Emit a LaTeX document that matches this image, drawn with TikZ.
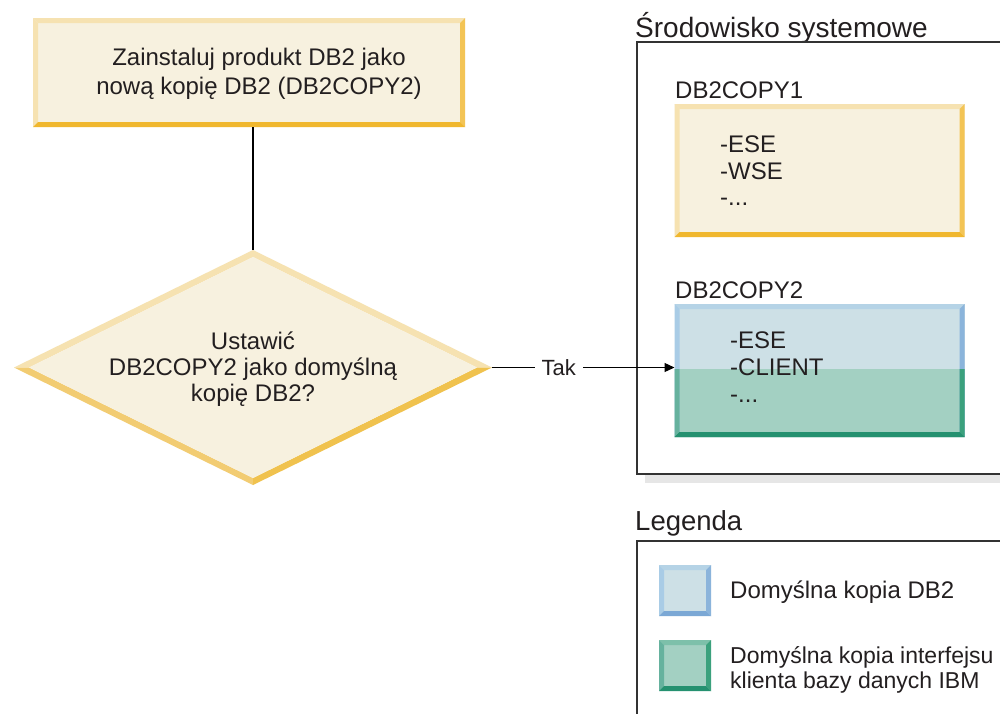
\documentclass[tikz,border=0pt]{standalone}
\usepackage{fontspec}
\setmainfont{Liberation Sans}
\usetikzlibrary{shapes.geometric,arrows.meta}
\definecolor{txt}{HTML}{231F20}
\definecolor{cream}{HTML}{F7F1DF}
\definecolor{ylight}{HTML}{F6E2B1}
\definecolor{yright}{HTML}{F3C455}
\definecolor{ydark}{HTML}{F0B72E}
\definecolor{ydl}{HTML}{F2CC72}
\definecolor{ydr}{HTML}{F0C24E}
\definecolor{bfill}{HTML}{CDE0E6}
\definecolor{btop}{HTML}{B5D3E6}
\definecolor{bleft}{HTML}{A9CCE6}
\definecolor{bright}{HTML}{8BB4DB}
\definecolor{bbot}{HTML}{7BA8D5}
\definecolor{gfill}{HTML}{A3D0C2}
\definecolor{gtop}{HTML}{7DC0AA}
\definecolor{gleft}{HTML}{66B29E}
\definecolor{gright}{HTML}{3BA17D}
\definecolor{gbot}{HTML}{259170}
\definecolor{frame}{HTML}{333333}
\definecolor{shadow}{HTML}{E6E6E6}
% bevel: node, width, top, left, right, bottom
\newcommand\bvl[6]{%
\fill[#3] (#1.north west) -- (#1.north east) -- ([xshift=-#2pt,yshift=-#2pt]#1.north east) -- ([xshift=#2pt,yshift=-#2pt]#1.north west) -- cycle;
\fill[#4] (#1.north west) -- ([xshift=#2pt,yshift=-#2pt]#1.north west) -- ([xshift=#2pt,yshift=#2pt]#1.south west) -- (#1.south west) -- cycle;
\fill[#5] (#1.north east) -- ([xshift=-#2pt,yshift=-#2pt]#1.north east) -- ([xshift=-#2pt,yshift=#2pt]#1.south east) -- (#1.south east) -- cycle;
\fill[#6] (#1.south west) -- ([xshift=#2pt,yshift=#2pt]#1.south west) -- ([xshift=-#2pt,yshift=#2pt]#1.south east) -- (#1.south east) -- cycle;}
\begin{document}
\begin{tikzpicture}[x=1pt,y=-1pt,
  every node/.style={font=\fontsize{24}{26.5}\selectfont, text=txt},
  shapebox/.style={rectangle, inner sep=0pt, outer sep=0pt, draw=none},
  txtleft/.style={anchor=north west, align=left, inner sep=0pt},
  label/.style={anchor=base west, inner sep=0pt},
  conn/.style={draw=black, line width=1.2pt},
  framebox/.style={shapebox, draw=frame, line width=1.4pt}]
\useasboundingbox (0,0) rectangle (1000,713);
\fill[white] (0,0) rectangle (1000,713);

% top box
\node[shapebox, fill=cream, minimum width=432pt, minimum height=109pt] (top) at (249,72.5) {};
\bvl{top}{5}{ylight}{ylight}{yright}{ydark}
\node[align=center, inner sep=0pt, font=\fontsize{24}{29}\selectfont] (toptxt) at ([xshift=10pt,yshift=-1pt]top.center) {Zainstaluj produkt DB2 jako\\nową kopię DB2 (DB2COPY2)};

% diamond
\node[diamond, shapebox, minimum width=478pt, minimum height=235pt] (d) at (253,367.5) {};
\fill[ylight] (d.west) -- (d.north) -- ([yshift=-7pt]d.north) -- ([xshift=15pt]d.west) -- cycle;
\fill[ylight] (d.north) -- (d.east) -- ([xshift=-15pt]d.east) -- ([yshift=-7pt]d.north) -- cycle;
\fill[ydl] (d.west) -- (d.south) -- ([yshift=7pt]d.south) -- ([xshift=15pt]d.west) -- cycle;
\fill[ydr] (d.south) -- (d.east) -- ([xshift=-15pt]d.east) -- ([yshift=7pt]d.south) -- cycle;
\fill[cream] ([yshift=-7pt]d.north) -- ([xshift=-15pt]d.east) -- ([yshift=7pt]d.south) -- ([xshift=15pt]d.west) -- cycle;
\node[align=center, inner sep=0pt, font=\fontsize{24}{26}\selectfont] (dtxt) at ([yshift=-2pt]d.center) {Ustawić\\DB2COPY2 jako domyślną\\kopię DB2?};

\draw[conn] (top.south -| d.north) -- (d.north);

% system environment
\node[label, font=\fontsize{28}{30}\selectfont] (systitle) at (635,37) {Środowisko systemowe};
\node[shapebox, minimum width=378pt, minimum height=432pt] (sys) at (826,258) {};
\fill[shadow] ([xshift=8pt,yshift=-1pt]sys.south west) rectangle ([yshift=-9pt]sys.south east);
\draw[frame, line width=1.4pt] (sys.north east) -- (sys.north west) -- (sys.south west) -- (sys.south east);

\node[label] (c1lab) at (675,98) {DB2COPY1};
\node[shapebox, fill=cream, minimum width=290pt, minimum height=133pt] (copy1) at (819.5,170.5) {};
\bvl{copy1}{5}{ylight}{ylight}{yright}{ydark}
\node[txtleft] (c1txt) at (720,136) {-ESE\\-WSE\\-...};

\node[label] (c2lab) at (675,298) {DB2COPY2};
\node[shapebox, minimum width=290pt, minimum height=133pt] (copy2) at (819.5,370.5) {};
\fill[bfill] (copy2.north west) rectangle ([yshift=1.5pt]copy2.east);
\fill[gfill] ([yshift=1.5pt]copy2.west) rectangle (copy2.south east);
\bvl{copy2}{5}{btop}{bleft}{bright}{gbot}
\fill[gleft] ([yshift=1.5pt]copy2.west) -- ([xshift=5pt,yshift=1.5pt]copy2.west) -- ([xshift=5pt,yshift=5pt]copy2.south west) -- (copy2.south west) -- cycle;
\fill[gright] ([yshift=1.5pt]copy2.east) -- ([xshift=-5pt,yshift=1.5pt]copy2.east) -- ([xshift=-5pt,yshift=5pt]copy2.south east) -- (copy2.south east) -- cycle;
\fill[gbot] (copy2.south west) -- ([xshift=5pt,yshift=5pt]copy2.south west) -- ([xshift=-5pt,yshift=5pt]copy2.south east) -- (copy2.south east) -- cycle;
\node[txtleft, font=\fontsize{24}{27}\selectfont] (c2txt) at (730,332) {-ESE\\-CLIENT\\-...};

% arrow
\draw[conn, -{Triangle[length=10pt,width=9pt]}] (d.east) -- node[pos=0.366, fill=white, inner xsep=7pt, inner ysep=2pt, font=\fontsize{22}{24}\selectfont] (tak) {Tak} (d.east -| copy2.west);

% legend
\node[label, font=\fontsize{27.5}{30}\selectfont] (legtitle) at (635,530) {Legenda};
\node[shapebox, minimum width=378pt, minimum height=195pt] (leg) at (826,638.5) {};
\draw[frame, line width=1.4pt] (leg.north east) -- (leg.north west) -- (leg.south west);

\node[shapebox, fill=bfill, minimum width=52pt, minimum height=51pt] (sq1) at (685,590.5) {};
\bvl{sq1}{5}{btop}{bleft}{bright}{bbot}
\node[shapebox, fill=gfill, minimum width=52pt, minimum height=51pt] (sq2) at (685,665.5) {};
\bvl{sq2}{5}{gtop}{gleft}{gright}{gbot}
\node[label] (l1) at (730,598) {Domyślna kopia DB2};
\node[txtleft, font=\fontsize{23}{25}\selectfont] (l2) at (730,646) {Domyślna kopia interfejsu\\klienta bazy danych IBM};
\end{tikzpicture}
\end{document}
